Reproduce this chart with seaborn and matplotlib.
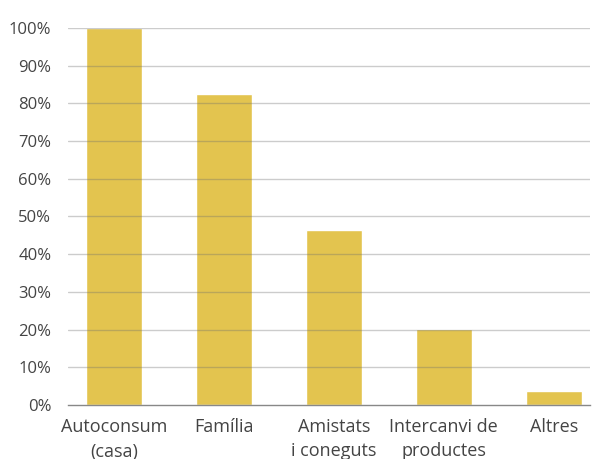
import numpy as np
import pandas as pd
import matplotlib
matplotlib.use("Agg")
import matplotlib.pyplot as plt
import seaborn as sns
from matplotlib.ticker import PercentFormatter

categories = ["Autoconsum\n(casa)", "Família", "Amistats\ni coneguts", "Intercanvi de\nproductes", "Altres"]
values = [100, 82.5, 46.5, 20.2, 3.7]
y_ticks = [0, 10, 20, 30, 40, 50, 60, 70, 80, 90, 100]

sns.set_style("white")
plt.rcParams["font.family"] = ["Open Sans", "DejaVu Sans"]

df = pd.DataFrame({"cat": categories, "val": values})

fig = plt.figure(figsize=(5.93, 4.59), dpi=100)
ax = fig.add_axes([68 / 593, 1 - 405 / 459, (590 - 68) / 593, (405 - 28) / 459])

sns.barplot(data=df, x="cat", y="val", color="#E3C44F", width=0.51,
            saturation=1, ax=ax, zorder=1)

# gridlines sit on top of the bars, semi-transparent
for t in y_ticks[1:]:
    ax.axhline(t, color="#6e6e6e", linewidth=1, alpha=0.35, zorder=3)

ax.set_ylim(0, 100)
ax.set_xlim(-0.418, 4.33)
ax.set_yticks(y_ticks)
ax.yaxis.set_major_formatter(PercentFormatter(decimals=0))

for s in ["top", "right", "left"]:
    ax.spines[s].set_visible(False)
ax.spines["bottom"].set_color("#888888")
ax.spines["bottom"].set_linewidth(1)
ax.spines["bottom"].set_zorder(4)

ax.tick_params(axis="both", length=0, labelcolor="#444444")
ax.tick_params(axis="y", pad=12, labelsize=12)
ax.tick_params(axis="x", pad=9, labelsize=13)
for lbl in ax.get_xticklabels():
    lbl.set_linespacing(1.5)
ax.set_xlabel("")
ax.set_ylabel("")

fig.savefig("out.png", dpi=100)
